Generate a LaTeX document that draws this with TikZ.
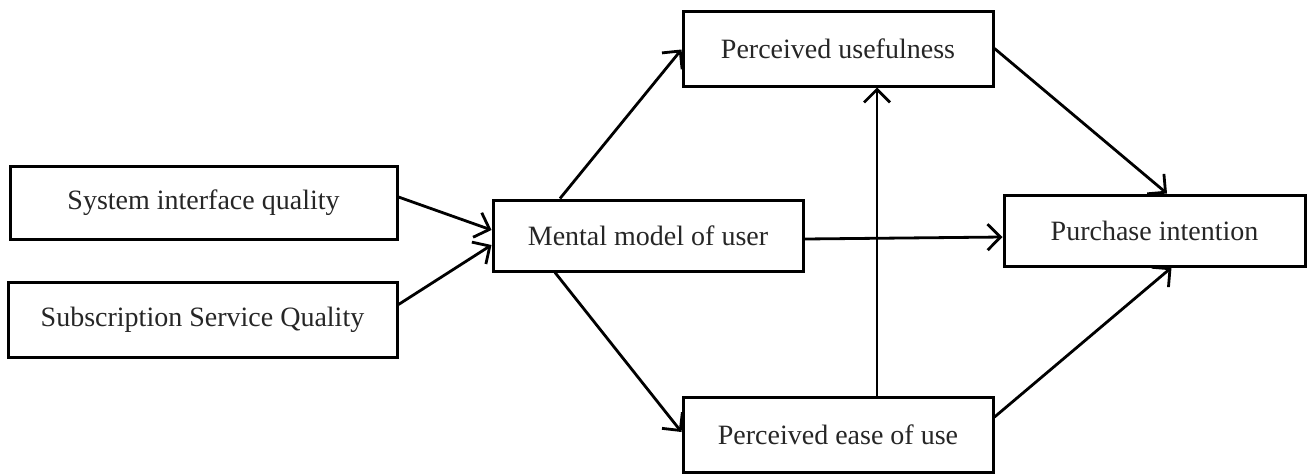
\documentclass[tikz,border=0pt]{standalone}
\usepackage{fontspec}
\setmainfont{Liberation Serif}
\usetikzlibrary{arrows.meta}
\definecolor{txt}{gray}{0.15}
\begin{document}
\begin{tikzpicture}[x=1pt,y=-1pt,
  box/.style={draw=black, line width=3pt, fill=white, inner sep=0pt,
    font=\fontsize{28}{32}\selectfont, text=txt},
  arr/.style={draw=black, line width=2.8pt,
    -{Straight Barb[length=13pt,width=26pt,line width=2.8pt]}}]
\useasboundingbox (0,0) rectangle (1311,475);
\node[box, minimum width=387pt, minimum height=73pt] (siq) at (203.5,202.5) {System interface quality};
\node[box, minimum width=389pt, minimum height=75pt] (ssq) at (202.5,319.5) {Subscription Service Quality};
\node[box, minimum width=310pt, minimum height=71pt] (mmu) at (648,235.5) {Mental model of user};
\node[box, minimum width=310pt, minimum height=75pt] (pu) at (838,48.5) {Perceived usefulness};
\node[box, minimum width=310pt, minimum height=75pt] (peu) at (838,434.5) {Perceived ease of use};
\node[box, minimum width=301pt, minimum height=71pt] (pi) at (1154.5,230.5) {Purchase intention};
\draw[arr] ([yshift=5.5pt]siq.east) -- ([yshift=5.5pt]mmu.west);
\draw[arr] ([yshift=15pt]ssq.east) -- ([yshift=-9.5pt]mmu.west);
\draw[arr] ([xshift=-88pt]mmu.north) -- ([yshift=-1pt]pu.west);
\draw[arr] ([xshift=-93pt]mmu.south) -- ([yshift=2.5pt]peu.west);
\draw[arr] ([yshift=-3.5pt]mmu.east) -- ([yshift=-6.5pt]pi.west);
\draw[arr] (pu.east) -- ([xshift=12.5pt]pi.north);
\draw[arr] ([yshift=17.5pt]peu.east) -- ([xshift=17pt]pi.south);
\draw[arr] ([xshift=39pt]peu.north) -- ([xshift=39pt]pu.south);
\end{tikzpicture}
\end{document}
